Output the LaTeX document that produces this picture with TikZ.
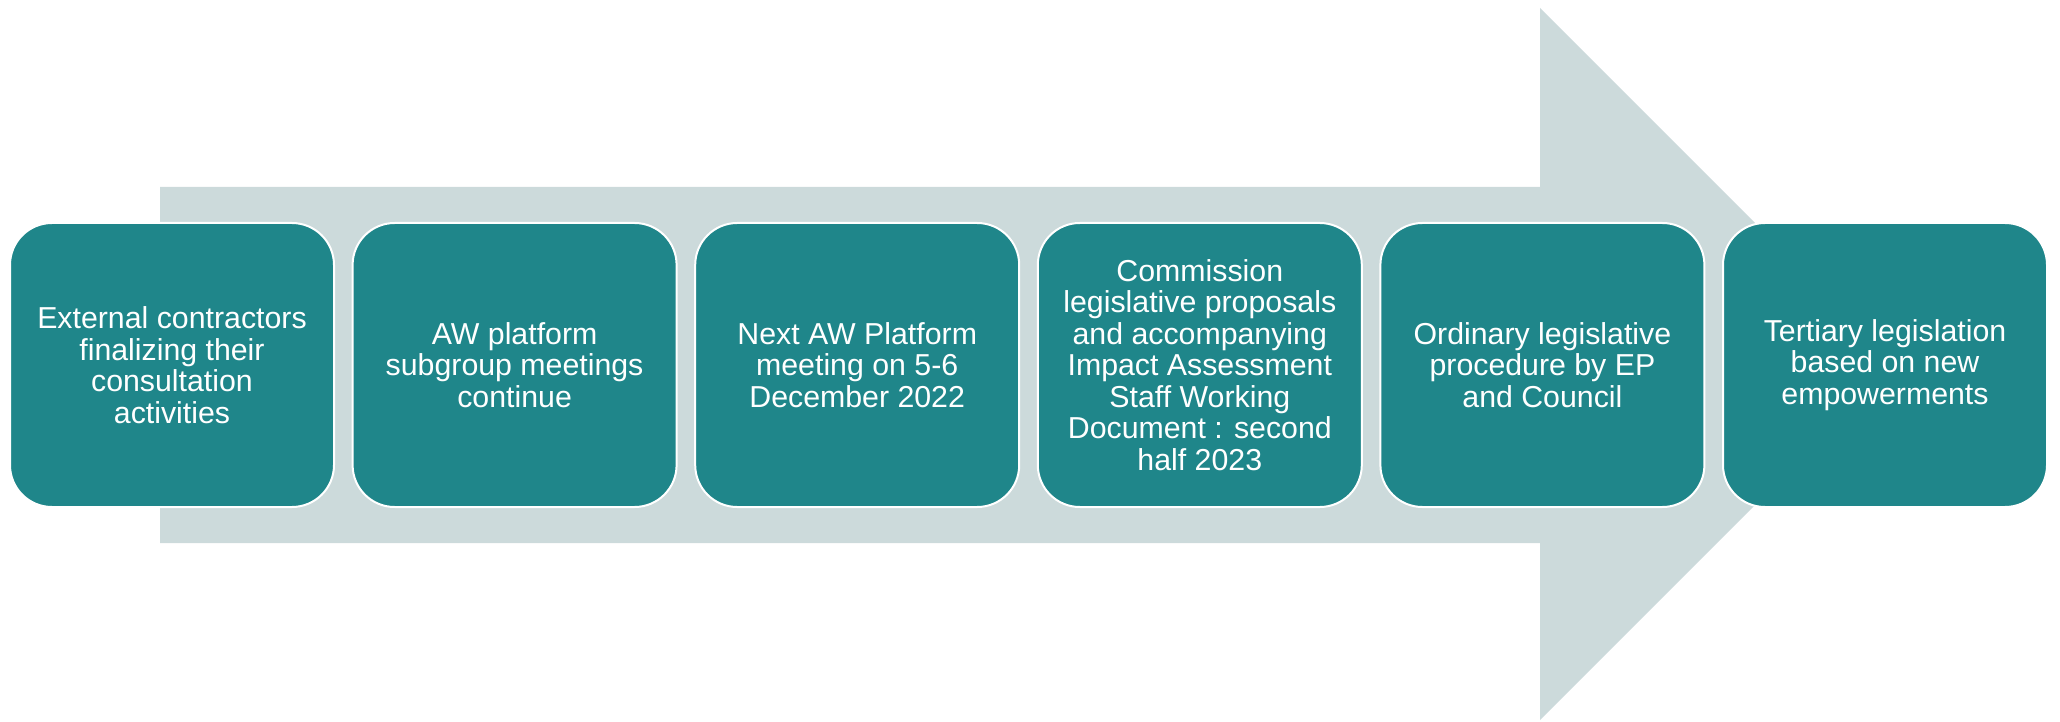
\documentclass[tikz,border=0pt]{standalone}
\usepackage{fontspec}
\setmainfont{Liberation Sans}
\definecolor{teal1}{RGB}{31,134,138}
\definecolor{arrowgray}{RGB}{204,218,219}
\begin{document}
\begin{tikzpicture}[x=1pt,y=1pt,
  stepbox/.style={rectangle, rounded corners=42pt, fill=teal1, draw=white, line width=2pt,
    minimum width=324pt, minimum height=284pt, inner sep=0pt, align=center, text=white,
    font=\fontsize{30.3}{31.5}\selectfont}]
\useasboundingbox (0,0) rectangle (2060,721);
\fill[arrowgray] (160,534) -- (1540,534) -- (1540,713) -- (1896,357) -- (1540,1) -- (1540,178) -- (160,178) -- cycle;
\node[stepbox] (b1) at (172,356) {External contractors\\finalizing their\\consultation\\activities};
\node[stepbox] (b2) at (514.6,356) {AW platform\\subgroup meetings\\continue};
\node[stepbox] (b3) at (857.2,356) {Next AW Platform\\meeting on 5-6\\December 2022};
\node[stepbox] (b4) at (1199.8,356) {Commission\\legislative proposals\\and accompanying\\Impact Assessment\\Staff Working\\Document : second\\half 2023};
\node[stepbox] (b5) at (1542.4,356) {Ordinary legislative\\procedure by EP\\and Council};
\node[stepbox] (b6) at (1885,356) {Tertiary legislation\\based on new\\empowerments};
\end{tikzpicture}
\end{document}
